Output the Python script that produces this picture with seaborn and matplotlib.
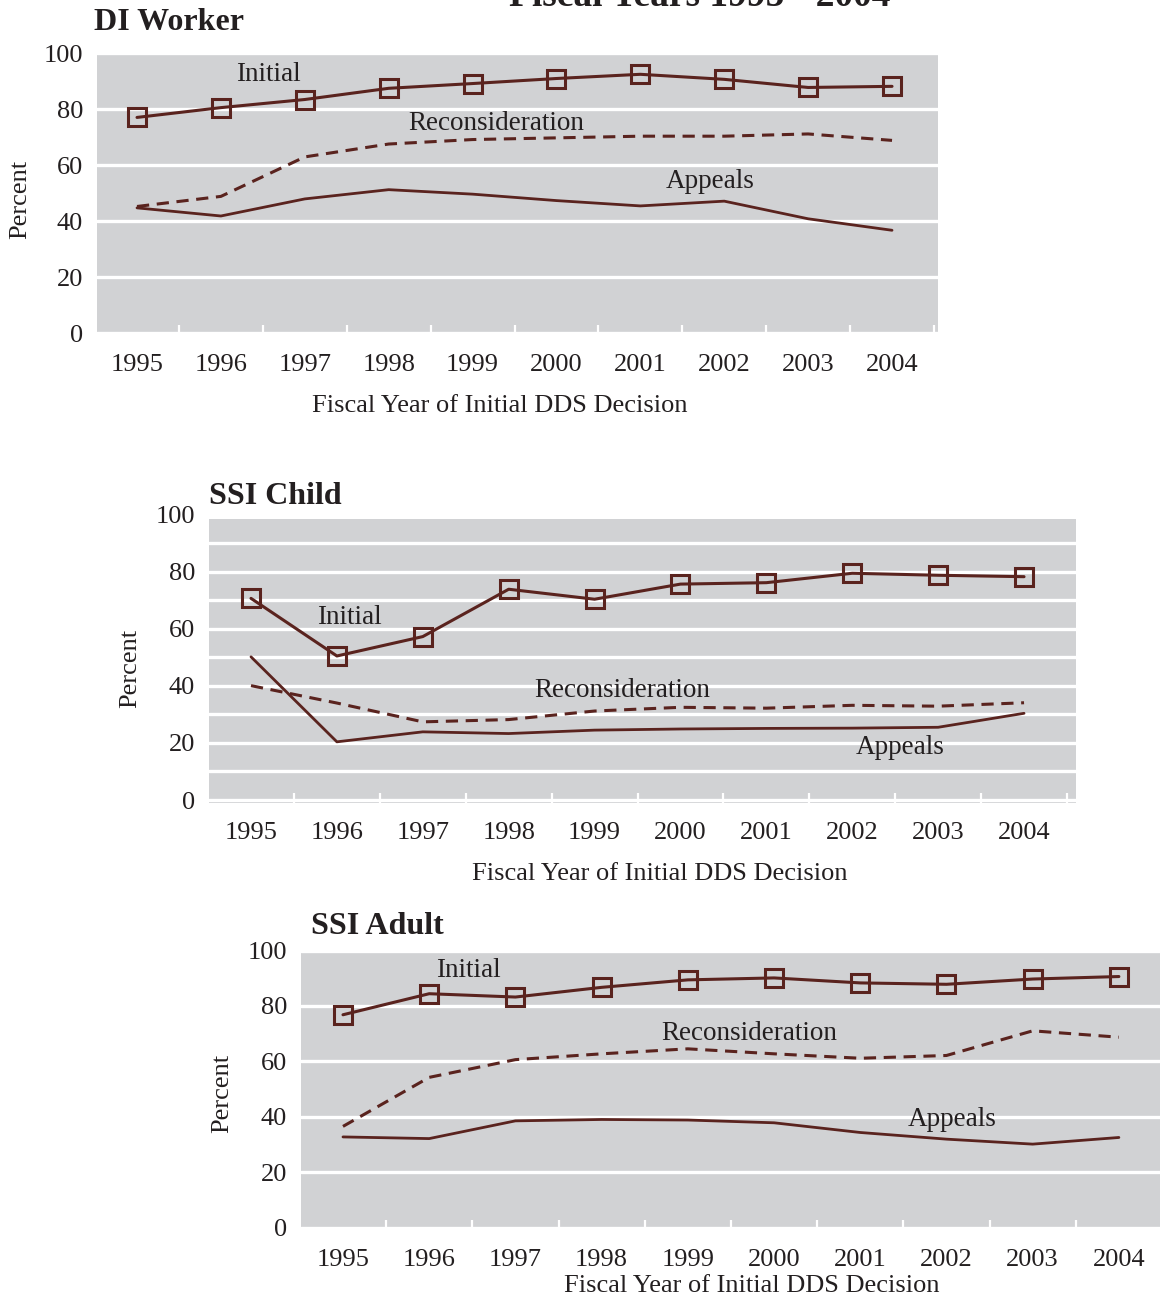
import numpy as np
import pandas as pd
import matplotlib
matplotlib.use('Agg')
import matplotlib.pyplot as plt
import seaborn as sns

# data
years = [1995, 1996, 1997, 1998, 1999, 2000, 2001, 2002, 2003, 2004]

di_initial = [77.1, 80.6, 83.5, 87.5, 89.2, 91.0, 92.5, 90.7, 87.8, 88.2]
di_recon = [45.3, 48.9, 63.0, 67.6, 69.2, 69.8, 70.4, 70.4, 71.2, 68.9]
di_appeals = [44.8, 41.9, 48.0, 51.3, 49.7, 47.4, 45.5, 47.2, 40.9, 36.8]

child_initial = [70.7, 50.5, 57.3, 73.9, 70.4, 75.7, 76.2, 79.5, 78.8, 78.3]
child_recon = [40.1, 34.0, 27.4, 28.2, 31.2, 32.5, 32.2, 33.2, 32.9, 34.1]
child_appeals = [50.2, 20.4, 23.9, 23.3, 24.5, 24.9, 25.1, 25.2, 25.5, 30.4]

adult_initial = [76.8, 84.4, 83.2, 86.7, 89.4, 90.1, 88.3, 87.8, 89.7, 90.6]
adult_recon = [36.5, 54.2, 60.6, 62.7, 64.5, 62.7, 61.1, 62.1, 71.0, 68.7]
adult_appeals = [32.7, 32.1, 38.5, 39.0, 38.8, 37.8, 34.3, 31.9, 30.1, 32.5]

panel_titles = ['DI Worker', 'SSI Child', 'SSI Adult']

sns.set_style('white')
plt.rcParams['font.family'] = ['Liberation Serif', 'DejaVu Serif']

W, H = 1160, 1299
fig = plt.figure(figsize=(W / 100, H / 100), dpi=100)

line_col = '#5a231e'
gray = '#d1d2d4'
txt_col = '#231f20'


def px_axes(left, top, right, bottom):
    return fig.add_axes([left / W, 1 - bottom / H, (right - left) / W, (bottom - top) / H])


def draw_panel(ax, initial, recon, appeals, xlim, ylim, gray_top, minor_grid,
               labels, xlab_pos, ylab_pos):
    df = pd.DataFrame({'year': years, 'Initial': initial,
                       'Reconsideration': recon, 'Appeals': appeals})
    ax.set_facecolor('white')
    ax.axhspan(ylim[0], gray_top, color=gray, zorder=0, lw=0)
    sns.lineplot(data=df, x='year', y='Initial', ax=ax, color=line_col, lw=2.2,
                 marker='s', markersize=13, markerfacecolor='none',
                 markeredgecolor=line_col, markeredgewidth=2.2, zorder=3)
    sns.lineplot(data=df, x='year', y='Reconsideration', ax=ax, color=line_col,
                 lw=2.2, dashes=(4, 2.5), zorder=3)
    sns.lineplot(data=df, x='year', y='Appeals', ax=ax, color=line_col, lw=2.0, zorder=3)

    ax.set_xlim(*xlim)
    ax.set_ylim(*ylim)
    ax.set_yticks([0, 20, 40, 60, 80, 100])
    ax.set_xticks(years)
    ax.set_xticklabels([str(y) for y in years])
    ax.set_xticks([y + 0.5 for y in years], minor=True)
    if minor_grid:
        ax.set_yticks(np.arange(10, 100, 20), minor=True)
    ax.grid(axis='y', which='major', color='white', lw=2.4, zorder=1)
    if minor_grid:
        ax.grid(axis='y', which='minor', color='white', lw=2.4, zorder=1)
    ax.axhline(0, color='white', lw=2.0, zorder=1)
    ax.tick_params(axis='x', which='major', length=0, pad=14, labelsize=19,
                   labelcolor=txt_col)
    ax.tick_params(axis='x', which='minor', length=7, width=1.6, color='white',
                   direction='in', bottom=True)
    ax.tick_params(axis='y', which='both', length=0, pad=10, labelsize=19,
                   labelcolor=txt_col)
    for s in ax.spines.values():
        s.set_visible(False)

    ax.set_xlabel('Fiscal Year of Initial DDS Decision', fontsize=19, color=txt_col)
    ax.xaxis.label.set_va('center')
    ax.xaxis.set_label_coords(*xlab_pos)
    ax.set_ylabel('Percent', fontsize=19, color=txt_col)
    ax.yaxis.label.set_va('center')
    ax.yaxis.set_label_coords(*ylab_pos)

    for name, (lx, ly) in labels.items():
        ax.text(lx, ly, name, ha='center', va='center', fontsize=19.5,
                color=txt_col, zorder=4)


# DI Worker
ax1 = px_axes(97, 53.3, 938, 335)
draw_panel(ax1, di_initial, di_recon, di_appeals,
           (1994.523, 2004.548), (-0.6, 100), 100, False,
           {'Initial': (1996.56, 92.6), 'Reconsideration': (1999.28, 74.8),
            'Appeals': (2001.83, 54.1)},
           (0.479, -0.252), (-0.0916, 0.48))

# SSI Child
ax2 = px_axes(209, 514.8, 1076, 803)
draw_panel(ax2, child_initial, child_recon, child_appeals,
           (1994.511, 2004.605), (-1.05, 100), 98.4, True,
           {'Initial': (1996.14, 64.1), 'Reconsideration': (1999.32, 38.5),
            'Appeals': (2002.56, 18.5)},
           (0.52, -0.245), (-0.0911, 0.468))

# SSI Adult
ax3 = px_axes(301, 950.5, 1162, 1230)
draw_panel(ax3, adult_initial, adult_recon, adult_appeals,
           (1994.513, 2004.5), (-0.9, 100), 100, False,
           {'Initial': (1996.45, 92.6), 'Reconsideration': (1999.71, 69.9),
            'Appeals': (2002.07, 39.1)},
           (0.524, -0.202), (-0.0918, 0.49))

# panel titles
fig.text(94 / W, 1 - 22 / H, panel_titles[0], ha='left', va='center',
         fontsize=23, fontweight='bold', color=txt_col)
fig.text(209 / W, 1 - 496 / H, panel_titles[1], ha='left', va='center',
         fontsize=23, fontweight='bold', color=txt_col)
fig.text(311 / W, 1 - 926 / H, panel_titles[2], ha='left', va='center',
         fontsize=23, fontweight='bold', color=txt_col)

# main title, cut off at the top edge in the source
fig.text(700 / W, 1 - 6 / H, 'Fiscal Years 1995 - 2004', ha='center', va='baseline',
         fontsize=27, fontweight='bold', color=txt_col)

fig.savefig('out.png', dpi=100)
